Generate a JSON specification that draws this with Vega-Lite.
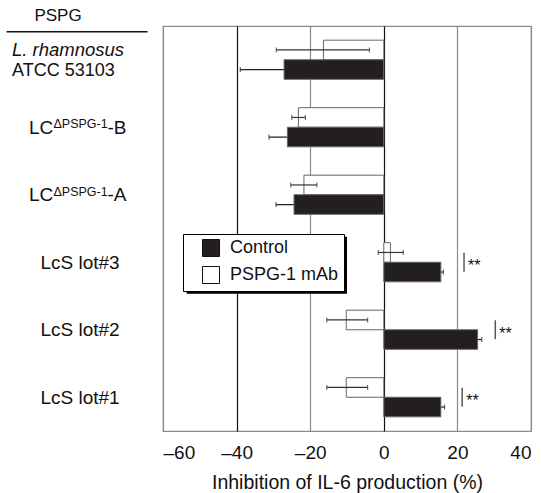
{
  "$schema": "https://vega.github.io/schema/vega-lite/v6.json",
  "width": 368,
  "height": 405,
  "autosize": {"type": "none"},
  "padding": {"left": 163, "top": 26, "right": 10, "bottom": 62},
  "config": {
    "font": "Liberation Sans",
    "view": {"stroke": "#8a8a8a", "strokeWidth": 1.2},
    "text": {"font": "Liberation Sans", "color": "#111"}
  },
  "datasets": {
    "bars": [
      {"cat": "L. rhamnosus ATCC 53103", "group": "PSPG-1 mAb", "value": -16.4, "lo": -29.2, "hi": -3.9},
      {"cat": "L. rhamnosus ATCC 53103", "group": "Control", "value": -27.1, "lo": -39.0, "hi": -15.2},
      {"cat": "LCΔPSPG-1-B", "group": "PSPG-1 mAb", "value": -23.2, "lo": -25.0, "hi": -21.3},
      {"cat": "LCΔPSPG-1-B", "group": "Control", "value": -26.2, "lo": -31.2, "hi": -21.2},
      {"cat": "LCΔPSPG-1-A", "group": "PSPG-1 mAb", "value": -21.7, "lo": -25.3, "hi": -18.2},
      {"cat": "LCΔPSPG-1-A", "group": "Control", "value": -24.4, "lo": -29.3, "hi": -19.5},
      {"cat": "LcS lot#3", "group": "PSPG-1 mAb", "value": 1.8, "lo": -1.5, "hi": 5.3},
      {"cat": "LcS lot#3", "group": "Control", "value": 15.5, "lo": 14.8, "hi": 16.2},
      {"cat": "LcS lot#2", "group": "PSPG-1 mAb", "value": -10.2, "lo": -15.5, "hi": -4.4},
      {"cat": "LcS lot#2", "group": "Control", "value": 25.5, "lo": 24.4, "hi": 26.6},
      {"cat": "LcS lot#1", "group": "PSPG-1 mAb", "value": -10.2, "lo": -15.5, "hi": -4.4},
      {"cat": "LcS lot#1", "group": "Control", "value": 15.5, "lo": 14.5, "hi": 16.5}
    ],
    "sig": [
      {"cat": "LcS lot#3", "sx": 21.8, "mark": "**"},
      {"cat": "LcS lot#2", "sx": 30.3, "mark": "**"},
      {"cat": "LcS lot#1", "sx": 21.3, "mark": "**"}
    ],
    "labels": [
      {"cat": "L. rhamnosus ATCC 53103", "kind": "rham", "t1": "L. rhamnosus", "t2": "ATCC 53103", "head": "PSPG"},
      {"cat": "LCΔPSPG-1-B", "kind": "lc", "t1": "LC", "sup": "ΔPSPG-1", "t2": "-B"},
      {"cat": "LCΔPSPG-1-A", "kind": "lc", "t1": "LC", "sup": "ΔPSPG-1", "t2": "-A"},
      {"cat": "LcS lot#3", "kind": "plain", "t1": "LcS lot#3"},
      {"cat": "LcS lot#2", "kind": "plain", "t1": "LcS lot#2"},
      {"cat": "LcS lot#1", "kind": "plain", "t1": "LcS lot#1"}
    ],
    "shadow": [
      {"cat": "LcS lot#3", "x1": -53.6, "x2": -10.0}
    ]
  },
  "encoding": {
    "y": {"field": "cat", "type": "nominal", "sort": ["L. rhamnosus ATCC 53103", "LCΔPSPG-1-B", "LCΔPSPG-1-A", "LcS lot#3", "LcS lot#2", "LcS lot#1"], "scale": {"domain": ["L. rhamnosus ATCC 53103", "LCΔPSPG-1-B", "LCΔPSPG-1-A", "LcS lot#3", "LcS lot#2", "LcS lot#1"], "paddingInner": 0.42, "paddingOuter": 0.21}, "axis": null}
  },
  "layer": [
    {
      "data": {"name": "shadow"},
      "mark": {"type": "bar", "color": "#000", "height": 57, "yOffset": 3},
      "encoding": {
        "x": {"field": "x1", "type": "quantitative", "title": "Inhibition of IL-6 production (%)"},
        "x2": {"field": "x2"}
      }
    },
    {
      "data": {"name": "bars"},
      "transform": [{"filter": "datum.group === 'Control'"}],
      "encoding": {
        "yOffset": {"field": "group", "type": "nominal", "sort": ["PSPG-1 mAb", "Control"], "scale": {"domain": ["PSPG-1 mAb", "Control"], "paddingInner": 0, "paddingOuter": 0}}
      },
      "layer": [
        {"mark": {"type": "rule", "color": "#222", "strokeWidth": 1.2},
         "encoding": {"x": {"field": "lo", "type": "quantitative", "title": "Inhibition of IL-6 production (%)"}, "x2": {"field": "hi"}}},
        {"mark": {"type": "tick", "color": "#222", "thickness": 1.2, "size": 5, "orient": "vertical"},
         "encoding": {"x": {"field": "lo", "type": "quantitative", "title": "Inhibition of IL-6 production (%)"}}},
        {"mark": {"type": "tick", "color": "#222", "thickness": 1.2, "size": 5, "orient": "vertical"},
         "encoding": {"x": {"field": "hi", "type": "quantitative", "title": "Inhibition of IL-6 production (%)"}}}
      ]
    },
    {
      "data": {"name": "bars"},
      "mark": {"type": "bar", "stroke": "#666", "strokeWidth": 1},
      "encoding": {
        "yOffset": {"field": "group", "type": "nominal", "sort": ["PSPG-1 mAb", "Control"], "scale": {"domain": ["PSPG-1 mAb", "Control"], "paddingInner": 0, "paddingOuter": 0}},
        "x": {
          "field": "value", "type": "quantitative",
          "scale": {"domain": [-60, 40], "nice": false, "zero": false},
          "title": "Inhibition of IL-6 production (%)",
          "axis": {
            "values": [-60, -40, -20, 0, 20, 40],
            "labelExpr": "datum.value < 0 ? '–' + abs(datum.value) : datum.label",
            "grid": true,
            "gridColor": {"condition": {"test": "datum.value === 0 || datum.value === -40", "value": "#111"}, "value": "#8a8a8a"},
            "gridWidth": 1.2,
            "domain": false,
            "ticks": false,
            "labelFontSize": 19,
            "labelColor": "#111",
            "labelPadding": 12,
            "labelFont": "Liberation Sans",
            "titleFontSize": 19.5,
            "titleFontWeight": "normal",
            "titleColor": "#111",
            "titleFont": "Liberation Sans",
            "titlePadding": 11
          }
        },
        "color": {
          "field": "group", "type": "nominal",
          "scale": {"domain": ["Control", "PSPG-1 mAb"], "range": ["#231f20", "#ffffff"]},
          "legend": {
            "title": null,
            "orient": "none",
            "legendX": 20,
            "legendY": 208,
            "fillColor": "white",
            "strokeColor": "#000",
            "padding": 5,
            "symbolType": "square",
            "symbolSize": 289,
            "symbolStrokeColor": "#111",
            "symbolStrokeWidth": 1,
            "symbolOffset": 14,
            "labelFontSize": 18,
            "labelFont": "Liberation Sans",
            "labelColor": "#111",
            "labelOffset": 10,
            "rowPadding": 5
          }
        }
      }
    },
    {
      "data": {"name": "bars"},
      "transform": [{"filter": "datum.group === 'PSPG-1 mAb'"}],
      "encoding": {
        "yOffset": {"field": "group", "type": "nominal", "sort": ["PSPG-1 mAb", "Control"], "scale": {"domain": ["PSPG-1 mAb", "Control"], "paddingInner": 0, "paddingOuter": 0}}
      },
      "layer": [
        {"mark": {"type": "rule", "color": "#333", "strokeWidth": 1.2},
         "encoding": {"x": {"field": "lo", "type": "quantitative", "title": "Inhibition of IL-6 production (%)"}, "x2": {"field": "hi"}}},
        {"mark": {"type": "tick", "color": "#333", "thickness": 1.2, "size": 5, "orient": "vertical"},
         "encoding": {"x": {"field": "lo", "type": "quantitative", "title": "Inhibition of IL-6 production (%)"}}},
        {"mark": {"type": "tick", "color": "#333", "thickness": 1.2, "size": 5, "orient": "vertical"},
         "encoding": {"x": {"field": "hi", "type": "quantitative", "title": "Inhibition of IL-6 production (%)"}}}
      ]
    },
    {
      "data": {"name": "sig"},
      "mark": {"type": "tick", "color": "#111", "thickness": 1.5, "size": 19, "orient": "vertical"},
      "encoding": {
        "x": {"field": "sx", "type": "quantitative", "title": "Inhibition of IL-6 production (%)"}
      }
    },
    {
      "data": {"name": "sig"},
      "mark": {"type": "text", "align": "left", "baseline": "alphabetic", "dx": 4, "dy": 9, "fontSize": 16, "color": "#111"},
      "encoding": {
        "x": {"field": "sx", "type": "quantitative", "title": "Inhibition of IL-6 production (%)"},
        "text": {"field": "mark"}
      }
    },
    {
      "data": {"name": "labels"},
      "transform": [{"filter": "datum.kind === 'plain'"}],
      "mark": {"type": "text", "align": "center", "baseline": "alphabetic", "dx": -83, "dy": 6.5, "fontSize": 19},
      "encoding": {
        "x": {"datum": -60, "type": "quantitative"},
        "text": {"field": "t1"}
      }
    },
    {
      "data": {"name": "labels"},
      "transform": [{"filter": "datum.kind === 'rham'"}],
      "mark": {"type": "text", "align": "left", "baseline": "alphabetic", "dx": -151, "dy": -4, "fontSize": 18.5, "fontStyle": "italic"},
      "encoding": {
        "x": {"datum": -60, "type": "quantitative"},
        "text": {"field": "t1"}
      }
    },
    {
      "data": {"name": "labels"},
      "transform": [{"filter": "datum.kind === 'rham'"}],
      "mark": {"type": "text", "align": "left", "baseline": "alphabetic", "dx": -151, "dy": 16, "fontSize": 18},
      "encoding": {
        "x": {"datum": -60, "type": "quantitative"},
        "text": {"field": "t2"}
      }
    },
    {
      "data": {"name": "labels"},
      "transform": [{"filter": "datum.kind === 'rham'"}],
      "mark": {"type": "text", "align": "center", "baseline": "alphabetic", "dx": -105, "dy": -38.6, "fontSize": 17},
      "encoding": {
        "x": {"datum": -60, "type": "quantitative"},
        "text": {"field": "head"}
      }
    },
    {
      "data": {"name": "labels"},
      "transform": [{"filter": "datum.kind === 'rham'"}],
      "mark": {"type": "rule", "color": "#111", "strokeWidth": 1.4, "yOffset": -28},
      "encoding": {
        "x": {"datum": -102.5, "type": "quantitative"},
        "x2": {"datum": -64.2}
      }
    },
    {
      "data": {"name": "labels"},
      "transform": [{"filter": "datum.kind === 'lc'"}],
      "mark": {"type": "text", "align": "left", "baseline": "alphabetic", "dx": -134, "dy": 6.5, "fontSize": 19},
      "encoding": {
        "x": {"datum": -60, "type": "quantitative"},
        "text": {"field": "t1"}
      }
    },
    {
      "data": {"name": "labels"},
      "transform": [{"filter": "datum.kind === 'lc'"}],
      "mark": {"type": "text", "align": "left", "baseline": "alphabetic", "dx": -109.5, "dy": 1, "fontSize": 12.5},
      "encoding": {
        "x": {"datum": -60, "type": "quantitative"},
        "text": {"field": "sup"}
      }
    },
    {
      "data": {"name": "labels"},
      "transform": [{"filter": "datum.kind === 'lc'"}],
      "mark": {"type": "text", "align": "left", "baseline": "alphabetic", "dx": -55.5, "dy": 6.5, "fontSize": 19},
      "encoding": {
        "x": {"datum": -60, "type": "quantitative"},
        "text": {"field": "t2"}
      }
    }
  ]
}
